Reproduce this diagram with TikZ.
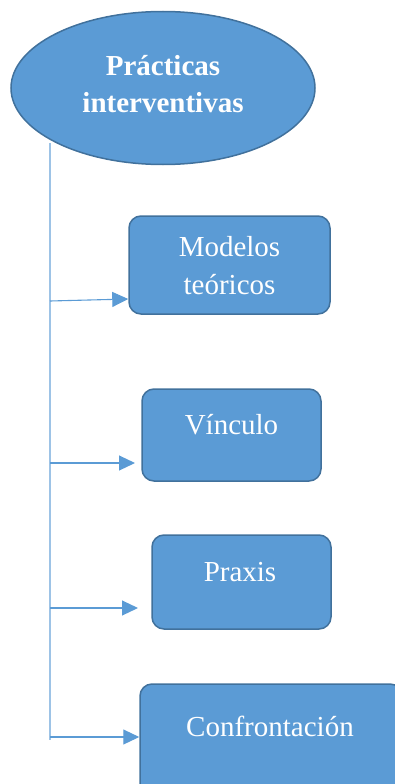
\documentclass[tikz,border=0pt]{standalone}
\usepackage{fontspec}
\setmainfont{Liberation Serif}
\usetikzlibrary{arrows.meta,shapes.geometric}
\definecolor{boxfill}{HTML}{5B9BD5}
\definecolor{boxedge}{HTML}{41719C}
\definecolor{linec}{HTML}{5B9BD5}
\definecolor{trunkc}{HTML}{9DC3E6}
\tikzset{
  boxnode/.style={draw=boxedge,fill=boxfill,line width=1.5pt,rounded corners=12pt,inner sep=0pt},
  txt/.style={text=white,font=\fontsize{29}{38}\selectfont,align=center,inner sep=0pt},
  conn/.style={draw=linec,line width=1.1pt},
  trunk/.style={draw=trunkc,line width=1.3pt},
  arr/.style={conn,-{Triangle[length=16pt,width=15pt]}}
}
\begin{document}
\begin{tikzpicture}[x=1pt,y=-1pt]
\useasboundingbox (0,0) rectangle (395,784);
\clip (0,0) rectangle (395,784);
% ellipse
\node[ellipse,draw=boxedge,fill=boxfill,line width=1.5pt,minimum width=304pt,minimum height=153pt,inner sep=0pt] (e) at (163,88) {};
\node[txt,font=\bfseries\fontsize{29}{37}\selectfont] (et) at (163,84) {Prácticas\\interventivas};
% boxes
\node[boxnode,minimum width=201pt,minimum height=98pt] (b1) at (229.5,265) {};
\node[txt] (t1) at (229.5,266) {Modelos\\teóricos};
\node[boxnode,minimum width=179pt,minimum height=92pt] (b2) at (231.5,435) {};
\node[txt] (t2) at (231.5,425) {Vínculo};
\node[boxnode,minimum width=179pt,minimum height=94pt] (b3) at (241.5,582) {};
\node[txt] (t3) at (240,572) {Praxis};
\node[boxnode,minimum width=262pt,minimum height=116pt] (b4) at (271,742) {};
\node[txt] (t4) at (270,726) {Confrontación};
% trunk
\coordinate (top) at (50,143);
\coordinate (bot) at (50,740);
\draw[trunk] (top) -- (bot);
\coordinate (s1) at (50,301);
\coordinate (s2) at (50,463);
\coordinate (s3) at (50,608);
\coordinate (s4) at (50,737);
\draw[arr] (s1) -- (b1.west |- 0,299);
\draw[arr] (s2) -- (135,463);
\draw[arr] (s3) -- (138,608);
\draw[arr] (s4) -- (b4.west |- s4);
\end{tikzpicture}
\end{document}
